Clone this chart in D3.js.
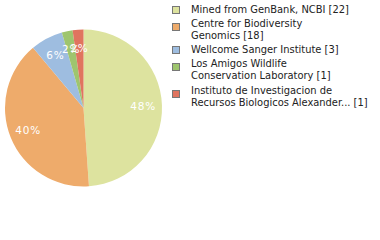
<!DOCTYPE html>
<html><head><meta charset="utf-8">
<script src="https://cdn.jsdelivr.net/npm/d3@7/dist/d3.min.js"></script>
<style>html,body{margin:0;padding:0;background:#fff;}</style>
</head><body>
<svg id="chart" width="380" height="240"></svg>
<script>
const categories = ["Mined from GenBank, NCBI", "Centre for Biodiversity Genomics", "Wellcome Sanger Institute", "Los Amigos Wildlife Conservation Laboratory", "Instituto de Investigacion de Recursos Biologicos Alexander..."];
const legendLines = [["Mined from GenBank, NCBI [22]"], ["Centre for Biodiversity", "Genomics [18]"], ["Wellcome Sanger Institute [3]"], ["Los Amigos Wildlife", "Conservation Laboratory [1]"], ["Instituto de Investigacion de", "Recursos Biologicos Alexander... [1]"]];
const values = [22, 18, 3, 1, 1];
const colors = ["#dde39f", "#eeab6b", "#9ebde0", "#9ec56e", "#e0745f"];

const svg = d3.select("#chart");
const cx = 83.5, cy = 108, r = 78.5;
const total = d3.sum(values);
const pie = d3.pie().sort(null).value(d => d)(values);
const arc = d3.arc().innerRadius(0).outerRadius(r);
const labelArc = d3.arc().innerRadius(r * 0.76).outerRadius(r * 0.76);
const g = svg.append("g").attr("transform", `translate(${cx},${cy})`);
g.selectAll("path").data(pie).join("path")
  .attr("d", arc).attr("fill", (d, i) => colors[i]);
g.selectAll("text").data(pie).join("text")
  .attr("transform", d => `translate(${labelArc.centroid(d)})`)
  .attr("text-anchor", "middle").attr("dy", "0.35em")
  .attr("fill", "#fff").attr("font-family", "DejaVu Sans").attr("font-size", 10.5)
  .attr("letter-spacing", 0.8)
  .text(d => Math.floor(d.data / total * 100) + "%");

const lg = svg.append("g").attr("font-family", "DejaVu Sans Condensed").attr("font-size", 11).attr("fill", "#222");
const lineH = 12;
let y = 9;
legendLines.forEach((lines, i) => {
  const sq = y + 1 + (lines.length - 1) * 3;
  lg.append("rect").attr("x", 172.5).attr("y", sq - 3.5).attr("width", 7).attr("height", 7)
    .attr("fill", colors[i]).attr("stroke", "#777").attr("stroke-width", 1);
  lines.forEach((t, j) => {
    lg.append("text").attr("x", 191).attr("y", y + j * lineH).attr("dy", "0.35em").text(t);
  });
  y += (lines.length - 1) * lineH + (i === 3 ? 15 : 14);
});
</script>
</body></html>
